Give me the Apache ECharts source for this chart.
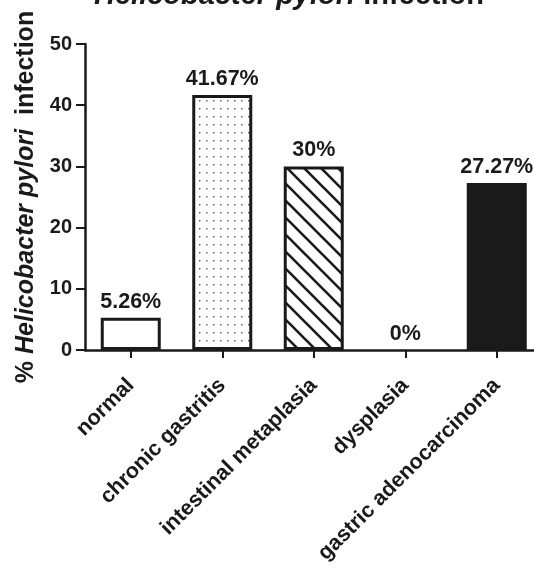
<!DOCTYPE html>
<html><head><meta charset="utf-8">
<script src="https://cdn.jsdelivr.net/npm/echarts@6/dist/echarts.min.js"></script>
<style>html,body{margin:0;padding:0;background:#fff}#c{width:534px;height:572px}</style>
</head><body><div id="c"></div>
<script>
// ---- data ----
const categories = ['normal', 'chronic gastritis', 'intestinal metaplasia', 'dysplasia', 'gastric adenocarcinoma'];
const values = [5.26, 41.67, 30, 0, 27.27];
const valueLabels = ['5.26%', '41.67%', '30%', '0%', '27.27%'];
const yMin = 0, yMax = 50, yInterval = 10;
const titleItalic = 'Helicobacter pylori';
const titleRest = ' infection';
const yNamePre = '% ', yNameItalic = 'Helicobacter pylori', yNamePost = '  infection';

// ---- styles ----
const INK = '#1a1a1a';
const FONT = '"Liberation Sans", Arial, sans-serif';

function dotPattern() {
  const c = document.createElement('canvas');
  c.width = 7; c.height = 8;
  const g = c.getContext('2d');
  g.fillStyle = '#ffffff'; g.fillRect(0, 0, 7, 8);
  g.fillStyle = '#666666'; g.fillRect(3, 4, 1.5, 1.5);
  return c;
}
function hatchPattern() {
  const s = 17;
  const c = document.createElement('canvas');
  c.width = s; c.height = s;
  const g = c.getContext('2d');
  g.fillStyle = '#ffffff'; g.fillRect(0, 0, s, s);
  g.strokeStyle = INK; g.lineWidth = 2.6;
  g.beginPath();
  for (let k = -1; k <= 1; k++) {
    g.moveTo(-s, -s + k * s);
    g.lineTo(2 * s, 2 * s + k * s);
  }
  g.stroke();
  return c;
}
const fills = [
  '#ffffff',
  { image: dotPattern(), repeat: 'repeat' },
  { image: hatchPattern(), repeat: 'repeat' },
  '#ffffff',
  INK
];
const borders = [3, 3, 3, 0, 0];

const chart = echarts.init(document.getElementById('c'), null, { renderer: 'canvas' });
chart.setOption({
  animation: false,
  backgroundColor: '#ffffff',
  textStyle: { fontFamily: FONT, color: INK },
  title: {
    text: '{i|' + titleItalic + '}{n|' + titleRest + '}',
    left: 284, top: -24, textAlign: 'center',
    textStyle: {
      rich: {
        i: { fontSize: 29, fontWeight: 'bold', fontStyle: 'italic', color: INK, fontFamily: FONT },
        n: { fontSize: 29, fontWeight: 'bold', color: INK, fontFamily: FONT }
      }
    }
  },
  grid: { left: 85, top: 44, width: 457.5, height: 306, containLabel: false, outerBoundsMode: 'none' },
  xAxis: {
    type: 'category',
    data: categories,
    axisLine: { show: true, lineStyle: { color: INK, width: 2.5 } },
    axisTick: { show: true, alignWithLabel: true, length: 8, lineStyle: { color: INK, width: 2 } },
    axisLabel: { interval: 0, rotate: 45, margin: 32, fontSize: 21.5, fontWeight: 'bold', color: INK, fontFamily: FONT },
    splitLine: { show: false }
  },
  yAxis: {
    type: 'value',
    min: yMin, max: yMax, interval: yInterval,
    name: '{n|' + yNamePre + '}{i|' + yNameItalic + '}{n|' + yNamePost + '}',
    nameLocation: 'middle', nameRotate: 90, nameGap: 45,
    nameTextStyle: {
      rich: {
        i: { fontSize: 25, fontWeight: 'bold', fontStyle: 'italic', color: INK, fontFamily: FONT },
        n: { fontSize: 25, fontWeight: 'bold', color: INK, fontFamily: FONT }
      }
    },
    axisLine: { show: true, lineStyle: { color: INK, width: 2.5 } },
    axisTick: { show: true, length: 9, lineStyle: { color: INK, width: 2 } },
    axisLabel: { margin: 13, fontSize: 20, fontWeight: 'bold', color: INK, fontFamily: FONT },
    splitLine: { show: false }
  },
  series: [{
    type: 'bar',
    barWidth: 60,
    data: values.map((v, i) => ({
      value: v,
      itemStyle: { color: fills[i], borderColor: INK, borderWidth: borders[i] }
    })),
    label: {
      show: true, position: 'top', distance: 5,
      fontSize: 21.5, fontWeight: 'bold', color: INK, fontFamily: FONT,
      formatter: p => valueLabels[p.dataIndex]
    }
  }]
});
</script>
</body></html>
